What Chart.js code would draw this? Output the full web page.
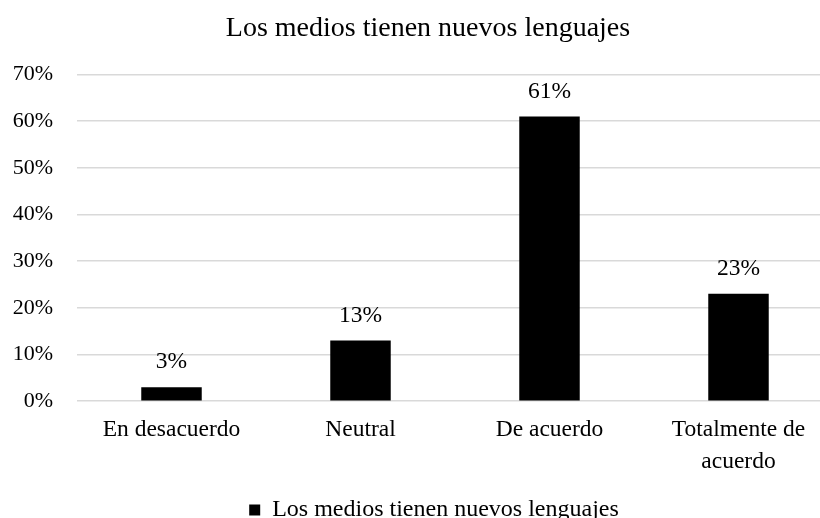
<!DOCTYPE html>
<html>
<head>
<meta charset="utf-8">
<script src="https://cdn.jsdelivr.net/npm/chart.js@4"></script>
<style>
  html, body { margin: 0; padding: 0; background: #fff; overflow: hidden; }
  #wrap { width: 860px; height: 518px; }
</style>
</head>
<body>
<div id="wrap"><canvas id="mediosChart" width="860" height="518"></canvas></div>
<script>
const categories = ["En desacuerdo", "Neutral", "De acuerdo", ["Totalmente de", "acuerdo"]];
const values = [3, 13, 61, 23];
const yTicks = [0, 10, 20, 30, 40, 50, 60, 70];
const seriesName = "Los medios tienen nuevos lenguajes";
const titleText = "Los medios tienen nuevos lenguajes";

const serif = "'Liberation Serif', 'Times New Roman', serif";

// etiquetas de valor encima de cada barra
const valueLabels = {
    id: "valueLabels",
    afterDatasetsDraw(chart) {
        const ctx = chart.ctx;
        const meta = chart.getDatasetMeta(0);
        ctx.save();
        ctx.font = "23.5px " + serif;
        ctx.fillStyle = "#000";
        ctx.textAlign = "center";
        ctx.textBaseline = "middle";
        meta.data.forEach((bar, i) => {
            ctx.fillText(values[i] + "%", bar.x, bar.y - 25);
        });
        ctx.restore();
    },
};

// centra titulo y leyenda un poco mas a la derecha, como en Excel
const shiftBoxes = {
    id: "shiftBoxes",
    afterLayout(chart) {
        if (chart.titleBlock) chart.titleBlock.left = 23;
        if (chart.legend) chart.legend.left = 35;
    },
};

const ctx = document.getElementById("mediosChart").getContext("2d");
const mediosChart = new Chart(ctx, {
    type: "bar",
    data: {
        labels: categories,
        datasets: [
            {
                label: seriesName,
                data: values,
                backgroundColor: "#000000",
                borderWidth: 0,
                barPercentage: 0.32,
                categoryPercentage: 1,
            },
        ],
    },
    options: {
        responsive: false,
        animation: false,
        layout: {
            padding: { left: 0, right: 27, top: 0, bottom: -14 },
        },
        plugins: {
            title: {
                display: true,
                text: titleText,
                color: "#000",
                font: { family: serif, size: 28, weight: "normal" },
                padding: { top: 12, bottom: 29 },
            },
            legend: {
                position: "bottom",
                labels: {
                    color: "#000",
                    font: { family: serif, size: 24 },
                    boxWidth: 11,
                    boxHeight: 11,
                    padding: 4,
                },
            },
            tooltip: { enabled: false },
        },
        scales: {
            y: {
                min: yTicks[0],
                max: yTicks[yTicks.length - 1],
                afterFit: (scale) => { scale.width = 77; },
                ticks: {
                    stepSize: 10,
                    color: "#000",
                    font: { family: serif, size: 22 },
                    padding: 24,
                    callback: (v) => v + "%",
                },
                grid: { color: "#d9d9d9", lineWidth: 1.5, drawTicks: false },
                border: { display: false },
            },
            x: {
                afterFit: (scale) => { scale.height += 12; },
                ticks: {
                    color: "#000",
                    font: { family: serif, size: 23.5, lineHeight: 1.38 },
                    padding: 4,
                    maxRotation: 0,
                },
                grid: { display: false },
                border: { display: false },
            },
        },
    },
    plugins: [valueLabels, shiftBoxes],
});
</script>
</body>
</html>
